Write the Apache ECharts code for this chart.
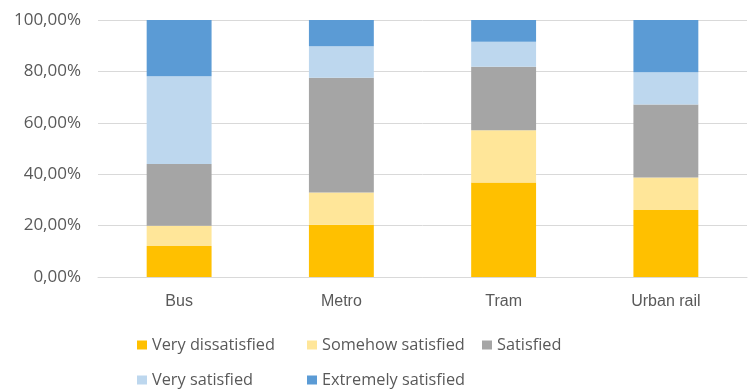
<!DOCTYPE html>
<html>
<head>
<meta charset="utf-8">
<script src="https://cdn.jsdelivr.net/npm/echarts@6/dist/echarts.min.js"></script>
<style>
  html, body { margin: 0; padding: 0; background: #fff; }
  #chart { width: 753px; height: 390px; }
</style>
</head>
<body>
<div id="chart"></div>
<script>
// Share of respondents (%) by satisfaction level, per transport mode
const categories = ['Bus', 'Metro', 'Tram', 'Urban rail'];
const veryDissatisfied   = [12.1, 20.3, 36.8, 26.1];
const somehowSatisfied   = [7.8, 12.6, 20.3, 12.6];
const satisfied          = [24.1, 44.6, 24.7, 28.4];
const verySatisfied      = [34.1, 12.3, 9.7, 12.6];
const extremelySatisfied = [21.9, 10.2, 8.5, 20.3];
const yTicks = [0, 20, 40, 60, 80, 100];

const seriesNames = ['Very dissatisfied', 'Somehow satisfied', 'Satisfied', 'Very satisfied', 'Extremely satisfied'];
const seriesData = [veryDissatisfied, somehowSatisfied, satisfied, verySatisfied, extremelySatisfied];
const colors = ['#FFC000', '#FFE699', '#A5A5A5', '#BDD7EE', '#5B9BD5'];

const sans = '"Liberation Sans", Arial, sans-serif';
const wideSans = '"Open Sans", "Liberation Sans", sans-serif';
const textColor = '#595959';

// legend laid out in two rows, each entry at its own column
const legendSlots = [
  { left: 137, top: 337 },
  { left: 307, top: 337 },
  { left: 482, top: 337 },
  { left: 137, top: 372 },
  { left: 307, top: 372 }
];

const chart = echarts.init(document.getElementById('chart'), null, { renderer: 'canvas' });
chart.setOption({
  animation: false,
  color: colors,
  grid: { left: 98, right: 6, top: 20, bottom: 113, containLabel: false },
  legend: seriesNames.map((n, i) => ({
    data: [n],
    left: legendSlots[i].left,
    top: legendSlots[i].top,
    icon: 'rect',
    itemWidth: 10,
    itemHeight: 9,
    itemGap: 0,
    padding: 0,
    selectedMode: false,
    textStyle: { color: textColor, fontSize: 16.3, fontFamily: wideSans }
  })),
  xAxis: {
    type: 'category',
    data: categories,
    axisLine: { show: true, lineStyle: { color: '#D9D9D9', width: 1 } },
    axisTick: { show: false },
    axisLabel: { color: textColor, fontSize: 16, fontFamily: sans, margin: 17 }
  },
  yAxis: {
    type: 'value',
    min: yTicks[0],
    max: yTicks[yTicks.length - 1],
    interval: 20,
    axisLine: { show: false },
    axisTick: { show: false },
    splitLine: { lineStyle: { color: '#D9D9D9', width: 1 } },
    axisLabel: {
      color: textColor, fontSize: 17, fontFamily: wideSans, margin: 17,
      formatter: v => v.toFixed(2).replace('.', ',') + '%'
    }
  },
  series: seriesNames.map((n, i) => ({
    name: n,
    type: 'bar',
    stack: 'total',
    barWidth: '40%',
    data: seriesData[i],
    itemStyle: { color: colors[i] }
  }))
});
</script>
</body>
</html>
